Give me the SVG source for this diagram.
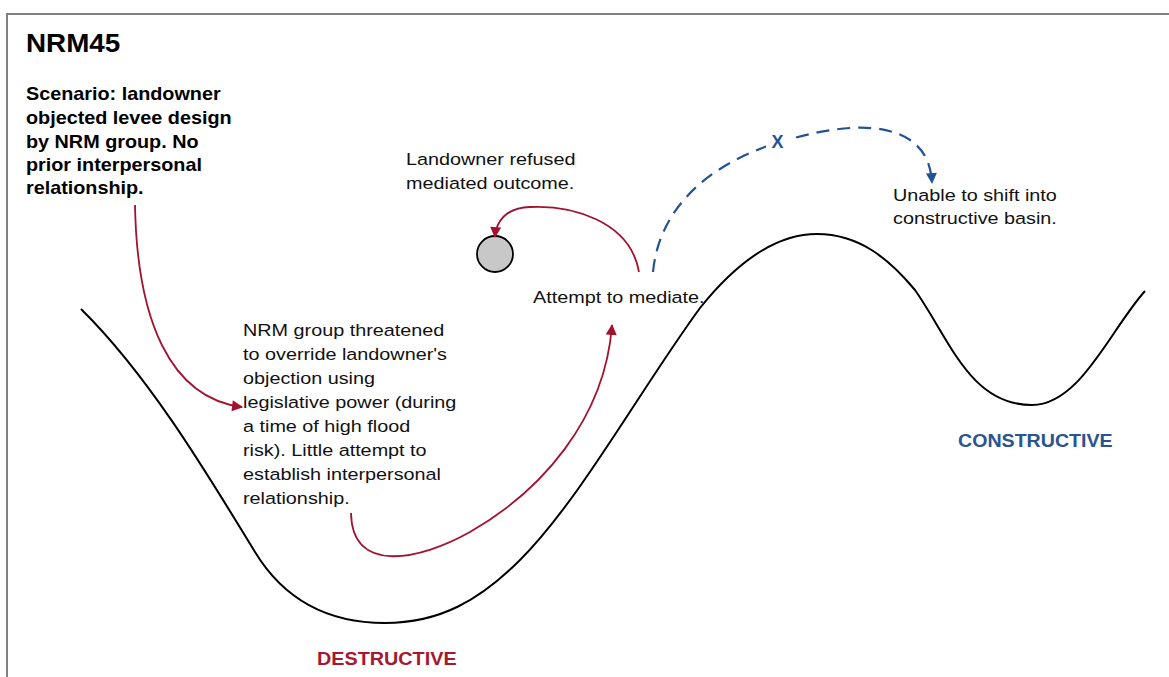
<svg xmlns="http://www.w3.org/2000/svg" width="1169" height="677" viewBox="0 0 1169 677">
<style>
.t{font-family:"Liberation Sans",Arial,sans-serif;font-size:17px;fill:#111}
.b{font-family:"Liberation Sans",Arial,sans-serif;font-weight:bold}
.red{fill:none;stroke:#a1122e;stroke-width:1.8}
.blue{fill:none;stroke:#245391;stroke-width:2.2;stroke-dasharray:13 8}
</style>
<defs>
<marker id="ar" viewBox="0 0 10 10" refX="9" refY="5" markerWidth="13" markerHeight="11" markerUnits="userSpaceOnUse" orient="auto"><path d="M0,0 L10,5 L0,10 z" fill="#a1122e"/></marker>
<marker id="ab" viewBox="0 0 10 10" refX="9" refY="5" markerWidth="13" markerHeight="11" markerUnits="userSpaceOnUse" orient="auto"><path d="M0,0 L10,5 L0,10 z" fill="#245391"/></marker>
</defs>
<rect x="0" y="0" width="1169" height="677" fill="#fff"/>
<path d="M7,690 L7,14 L1180,14" fill="none" stroke="#808080" stroke-width="2"/>
<g id="landscape">
<path d="M81,309 C148,375 205,470 255,552 C280,593 320,623 385,623 C440,623 480,600 520,560 C580,500 640,390 700,308 C740,258 780,234 817,234 C860,234 890,260 915,290 C950,340 970,405 1032,405 C1080,405 1110,330 1145,291" fill="none" stroke="#000" stroke-width="2"/>
</g>
<g id="title">
<text class="b" x="26" y="52" font-size="26" fill="#000" transform="translate(26,0) scale(1.07,1) translate(-26,0)">NRM45</text>
</g>
<g id="scenario">
<text class="b" font-size="18" fill="#000" transform="translate(26,0) scale(1.1,1) translate(-26,0)"><tspan x="26" y="100">Scenario: landowner</tspan><tspan x="26" y="124">objected levee design</tspan><tspan x="26" y="148">by NRM group. No</tspan><tspan x="26" y="171">prior interpersonal</tspan><tspan x="26" y="194">relationship.</tspan></text>
</g>
<g id="threat">
<text class="t" transform="translate(243,0) scale(1.165,1) translate(-243,0)"><tspan x="243" y="336">NRM group threatened</tspan><tspan x="243" y="360">to override landowner's</tspan><tspan x="243" y="384">objection using</tspan><tspan x="243" y="408">legislative power (during</tspan><tspan x="243" y="432">a time of high flood</tspan><tspan x="243" y="456">risk). Little attempt to</tspan><tspan x="243" y="480">establish interpersonal</tspan><tspan x="243" y="504">relationship.</tspan></text>
</g>
<g id="mediate">
<text class="t" x="533" y="303" transform="translate(533,0) scale(1.165,1) translate(-533,0)">Attempt to mediate.</text>
</g>
<g id="refused">
<text class="t" transform="translate(406,0) scale(1.165,1) translate(-406,0)"><tspan x="406" y="165">Landowner refused</tspan><tspan x="406" y="189">mediated outcome.</tspan></text>
<circle cx="495" cy="254" r="18" fill="#c8c8c8" stroke="#000" stroke-width="1.8"/>
</g>
<g id="unable">
<text class="t" transform="translate(893,0) scale(1.165,1) translate(-893,0)"><tspan x="893" y="201">Unable to shift into</tspan><tspan x="893" y="224">constructive basin.</tspan></text>
</g>
<g id="destructive">
<text class="b" x="317" y="665" font-size="18" fill="#a5182f" transform="translate(317,0) scale(1.1,1) translate(-317,0)">DESTRUCTIVE</text>
</g>
<g id="constructive">
<text class="b" x="958" y="447" font-size="18" fill="#2a5490" transform="translate(958,0) scale(1.09,1) translate(-958,0)">CONSTRUCTIVE</text>
</g>
<g id="connectors">
<path class="red" d="M135,205 C137,320 170,398 242,407" marker-end="url(#ar)"/>
<path class="red" d="M351,513 C352,575 420,560 470,532 C540,492 605,420 612,325" marker-end="url(#ar)"/>
<path class="red" d="M639,272 C630,220 570,205 530,207 C505,208 496,222 495,237" marker-end="url(#ar)"/>
<path class="blue" d="M653,272 C660,200 720,160 780,142 C830,127 880,120 910,140 C925,150 931,165 932,183" marker-end="url(#ab)"/>
<rect x="766" y="131" width="24" height="20" fill="#fff"/>
<text class="b" x="777.5" y="148" font-size="18" fill="#245391" text-anchor="middle">X</text>
</g>
</svg>
